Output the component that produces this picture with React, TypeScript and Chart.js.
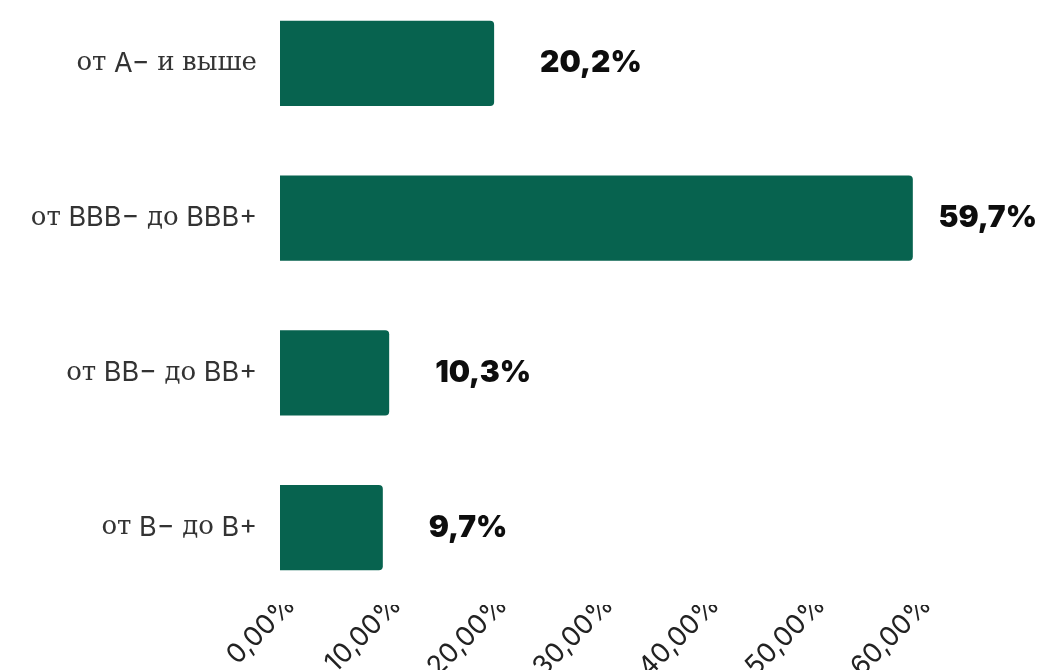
import { useEffect, useRef } from 'react';
import { Chart, registerables } from 'chart.js';

Chart.register(...registerables);

const categories = ['от A− и выше', 'от BBB− до BBB+', 'от BB− до BB+', 'от B− до B+'];
const shares = [20.2, 59.7, 10.3, 9.7];
const valueLabels = ['20,2%', '59,7%', '10,3%', '9,7%'];
const tickValues = [0, 10, 20, 30, 40, 50, 60];
const tickLabels = ['0,00%', '10,00%', '20,00%', '30,00%', '40,00%', '50,00%', '60,00%'];

const BAR_COLOR = '#07634F';
const LATIN_FONT = 'Inter, "Open Sans", sans-serif';
const CYR_FONT = '"DejaVu Serif", serif';

const CANVAS_W = 1035;
const CANVAS_H = 709;

function splitRuns(text: string) {
  const parts = text.split(/([\u0400-\u04FF]+)/).filter((p) => p.length > 0);
  return parts.map((p) => ({ text: p, cyr: /[\u0400-\u04FF]/.test(p) }));
}

const labelPlugin = {
  id: 'customLabels',
  afterDraw(chart: any) {
    const ctx = chart.ctx as CanvasRenderingContext2D;
    const yScale = chart.scales.y;
    const area = chart.chartArea;
    ctx.save();
    ctx.textBaseline = 'middle';
    // category labels with mixed fonts (Latin sans, Cyrillic serif)
    const fontFor = (cyr: boolean) => (cyr ? `400 26px ${CYR_FONT}` : `400 27px ${LATIN_FONT}`);
    categories.forEach((label, i) => {
      const y = yScale.getPixelForValue(i);
      const runs = splitRuns(label);
      let total = 0;
      const widths = runs.map((r) => {
        ctx.font = fontFor(r.cyr);
        const w = ctx.measureText(r.text).width;
        total += w;
        return w;
      });
      let x = area.left - 23 - total;
      ctx.fillStyle = '#333333';
      ctx.textAlign = 'left';
      runs.forEach((r, k) => {
        ctx.font = fontFor(r.cyr);
        ctx.fillText(r.text, x, y);
        x += widths[k];
      });
    });
    // value labels
    const meta = chart.getDatasetMeta(0);
    ctx.font = `900 30px ${LATIN_FONT}`;
    ctx.fillStyle = '#0d0d0d';
    ctx.textAlign = 'left';
    meta.data.forEach((bar: any, i: number) => {
      const text = valueLabels[i];
      const w = ctx.measureText(text).width;
      let x = bar.x + 46;
      if (x + w > chart.width - 6) x = chart.width - 6 - w;
      ctx.fillText(text, x, bar.y);
    });
    ctx.restore();
  },
};

export default function App() {
  const ref = useRef<HTMLCanvasElement>(null);
  useEffect(() => {
    const chart = new Chart(ref.current as HTMLCanvasElement, {
      type: 'bar',
      data: {
        labels: categories,
        datasets: [
          {
            data: shares,
            backgroundColor: BAR_COLOR,
            borderRadius: 4,
            categoryPercentage: 0.55,
            barPercentage: 1,
          },
        ],
      },
      options: {
        indexAxis: 'y',
        animation: false,
        responsive: false,
        devicePixelRatio: 1,
        layout: { padding: { top: 0, right: 127, left: 0, bottom: 0 } },
        plugins: { legend: { display: false }, tooltip: { enabled: false } },
        scales: {
          x: {
            min: 0,
            max: 60,
            afterBuildTicks: (s: any) => {
              s.ticks = tickValues.map((v) => ({ value: v }));
            },
            ticks: {
              autoSkip: false,
              maxRotation: 45,
              minRotation: 45,
              padding: -24,
              labelOffset: 11,
              color: '#222222',
              font: { family: LATIN_FONT, size: 27 },
              callback: (v: any) => tickLabels[tickValues.indexOf(Number(v))] ?? '',
            },
            grid: { display: false },
            border: { display: false },
            afterFit: (s: any) => {
              s.height = 90;
            },
          },
          y: {
            ticks: { display: false },
            grid: { display: false },
            border: { display: false },
            afterFit: (s: any) => {
              s.width = 272;
            },
          },
        },
      } as any,
      plugins: [labelPlugin],
    });
    return () => chart.destroy();
  }, []);

  return (
    <div style={{ position: 'relative', width: CANVAS_W, height: 662, overflow: 'hidden' }}>
      <div style={{ position: 'absolute', top: -22, left: 0, width: CANVAS_W, height: CANVAS_H }}>
        <canvas ref={ref} width={CANVAS_W} height={CANVAS_H} style={{ display: 'block' }} />
      </div>
    </div>
  );
}
